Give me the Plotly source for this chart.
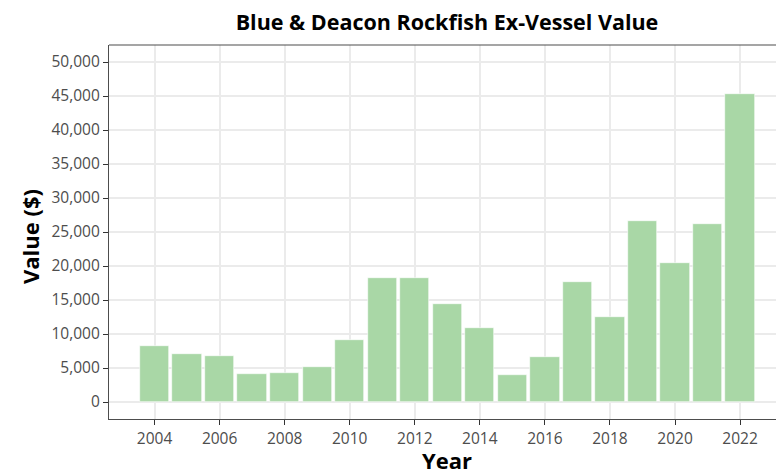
import plotly.graph_objects as go

years = list(range(2004, 2023))
values = [8200, 7050, 6800, 4150, 4250, 5150, 9100, 18300, 18300, 14400,
          10950, 4000, 6600, 17600, 12450, 26600, 20500, 26150, 45350]
y_ticks = list(range(0, 50001, 5000))
y_tick_labels = [f"{v:,}" for v in y_ticks]
x_ticks = list(range(2004, 2023, 2))

title = "Blue & Deacon Rockfish Ex-Vessel Value"
x_title = "Year"
y_title = "Value ($)"

# the page body adds an 8px offset; compensate so the panel lands where the reference has it
OFF = 8
W, H = 784 - OFF, 474 - OFF
L, R, T = 109 - OFF, 0, 45 - OFF
B = (H + OFF) - 419
pw, ph = W - L - R, H - T - B

fig = go.Figure()
fig.add_trace(go.Bar(
    x=years, y=values, width=0.9,
    marker=dict(color="#A9D7A6", line=dict(color="#FFFFFF", width=0.6)),
    hoverinfo="x+y",
))

font_family = "Open Sans, Noto Sans, sans-serif"
fig.update_layout(
    width=W, height=H,
    margin=dict(l=L, r=R, t=T, b=B, autoexpand=False),
    paper_bgcolor="white", plot_bgcolor="white",
    showlegend=False,
    bargap=0,
    title=dict(text=f"<b>{title}</b>", x=(447 - OFF) / W, xanchor="center",
               y=1 - (22 - OFF) / H, yanchor="middle",
               font=dict(family=font_family, size=21.5, color="black")),
    font=dict(family=font_family),
)
fig.update_xaxes(
    range=[2002.6, 2023.35], tickmode="array", tickvals=x_ticks,
    ticktext=[str(t) for t in x_ticks],
    showgrid=True, gridcolor="#EBEBEB", gridwidth=1.5,
    showline=True, linecolor="#4D4D4D", linewidth=1.2, mirror=False,
    ticks="outside", ticklen=5, tickcolor="#333333", tickwidth=1,
    tickfont=dict(family=font_family, size=15.5, color="#4D4D4D"),
    automargin=False, zeroline=False,
)
fig.update_yaxes(
    range=[-2500, 52500], tickmode="array", tickvals=y_ticks, ticktext=y_tick_labels,
    showgrid=True, gridcolor="#EBEBEB", gridwidth=1.5,
    showline=True, linecolor="#4D4D4D", linewidth=1.2,
    ticks="outside", ticklen=5, tickcolor="#333333", tickwidth=1,
    tickfont=dict(family=font_family, size=15.5, color="#4D4D4D"),
    automargin=False, zeroline=False,
)
# top border of panel
fig.add_shape(type="line", xref="paper", yref="paper", x0=0, x1=1, y0=1, y1=1,
              line=dict(color="#4D4D4D", width=1.2))

fig.add_annotation(text=f"<b>{x_title}</b>", xref="paper", yref="paper",
                   x=(447 - 109) / pw, y=0, yshift=-41, xanchor="center", yanchor="middle",
                   showarrow=False, font=dict(family=font_family, size=22, color="black"))
fig.add_annotation(text=f"<b>{y_title}</b>", xref="paper", yref="paper",
                   x=(30 - 109) / pw, y=(419 - 237) / ph, xanchor="center", yanchor="middle",
                   textangle=-90, showarrow=False,
                   font=dict(family=font_family, size=22, color="black"))

fig.write_html("out.html")
